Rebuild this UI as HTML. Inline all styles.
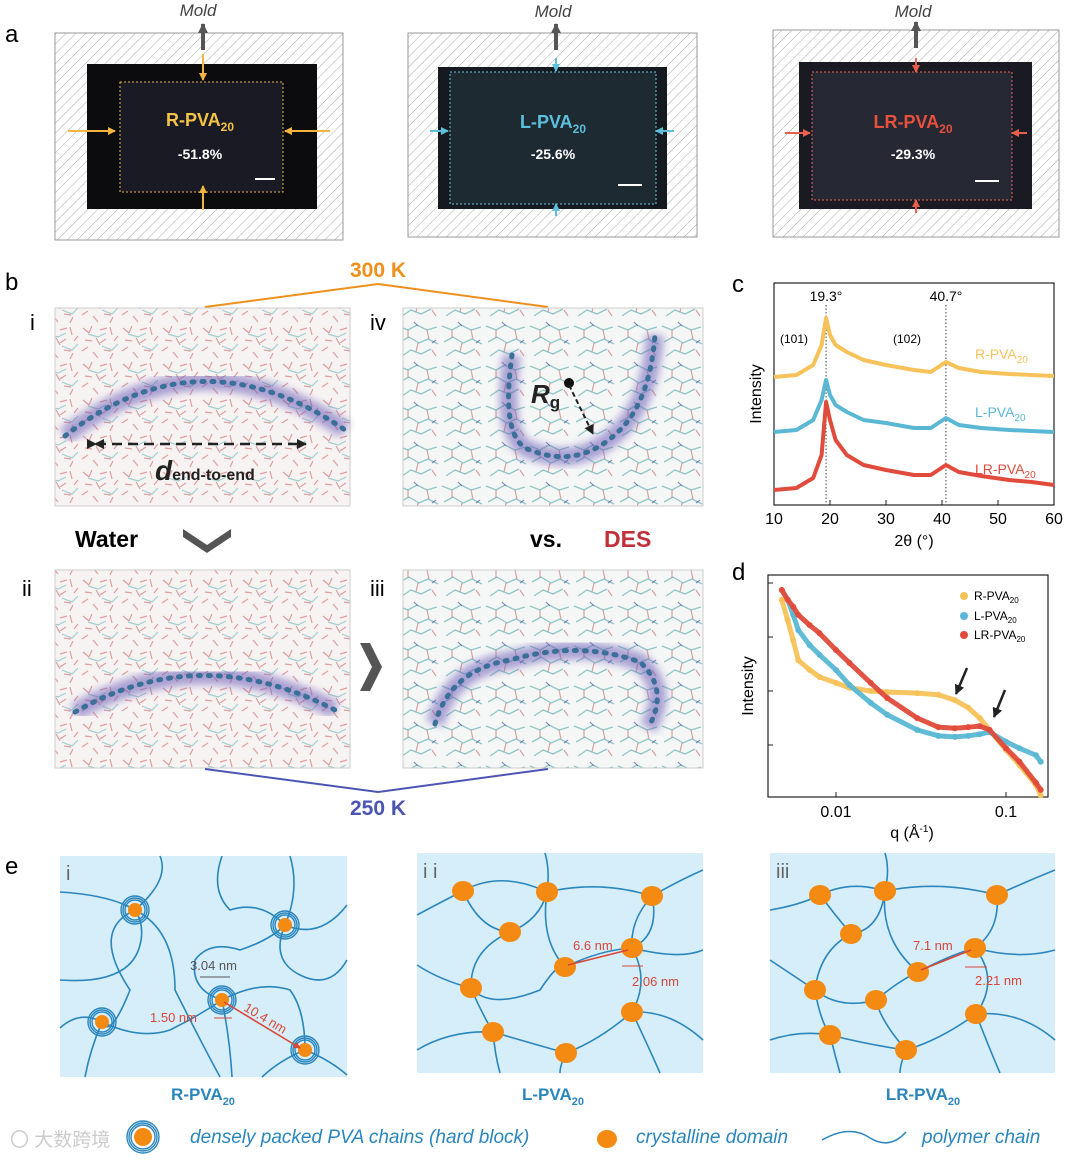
<!DOCTYPE html>
<html><head><meta charset="utf-8">
<style>
html,body{margin:0;padding:0;background:#fff;}
svg{display:block;font-family:"Liberation Sans",Arial,sans-serif;}
</style></head>
<body>
<svg id="fig" width="1080" height="1160" viewBox="0 0 1080 1160" xmlns="http://www.w3.org/2000/svg">
<defs>
<pattern id="hatch" width="7" height="7" patternUnits="userSpaceOnUse" patternTransform="rotate(45)">
<rect width="7" height="7" fill="#fff"/><line x1="0" y1="0" x2="0" y2="7" stroke="#a8a8a8" stroke-width="1"/>
</pattern>
<pattern id="water" width="40" height="36" patternUnits="userSpaceOnUse">
<rect width="40" height="36" fill="#f7f3f3"/>
<path d="M3 4l6 5M12 2l-3 7M20 6l7-2M30 3l2 8M5 16l7 1M16 14l4 7M26 15l-6 4M34 17l4-5M2 27l6-4M13 28l5 6M24 26l7 1M33 29l-3 6" stroke="#d98a8a" stroke-width="1.2" opacity="0.8" fill="none"/>
<path d="M8 10l10 3 8-4M22 22l10 4 6-6" stroke="#8cc4c4" stroke-width="1.2" opacity="0.8" fill="none"/>
</pattern>
<pattern id="des" width="44" height="40" patternUnits="userSpaceOnUse">
<rect width="44" height="40" fill="#f5f6f6"/>
<path d="M2 6l10 4 9-5 10 5 10-3M4 22l9-5 10 6 9-4 10 5M6 36l9-6 10 4 10-5" stroke="#7fbfbf" stroke-width="1.3" opacity="0.85" fill="none"/>
<path d="M12 10l0 8M31 10l2 9M22 23l-2 9M36 30l4 6" stroke="#d58c8c" stroke-width="1.2" opacity="0.8" fill="none"/>
<path d="M18 2l4 4M40 20l-4 3" stroke="#5b5bb0" stroke-width="1.2" opacity="0.7" fill="none"/>
</pattern>
<filter id="blur"><feGaussianBlur stdDeviation="4"/></filter>
<marker id="ah" markerUnits="userSpaceOnUse" markerWidth="10" markerHeight="10" refX="9" refY="5" orient="auto"><path d="M0 0L10 5L0 10z" fill="#222"/></marker>
<marker id="ahg" markerUnits="userSpaceOnUse" markerWidth="10" markerHeight="10" refX="9" refY="5" orient="auto"><path d="M0 0L10 5L0 10z" fill="#555"/></marker>
<marker id="ahy" markerUnits="userSpaceOnUse" markerWidth="8" markerHeight="8" refX="7" refY="4" orient="auto"><path d="M0 0L8 4L0 8z" fill="#f2b640"/></marker>
<marker id="ahb" markerUnits="userSpaceOnUse" markerWidth="8" markerHeight="8" refX="7" refY="4" orient="auto"><path d="M0 0L8 4L0 8z" fill="#5cc0dc"/></marker>
<marker id="ahl" markerUnits="userSpaceOnUse" markerWidth="8" markerHeight="8" refX="7" refY="4" orient="auto"><path d="M0 0L8 4L0 8z" fill="#e8604c"/></marker>
<marker id="ahr" markerUnits="userSpaceOnUse" markerWidth="7" markerHeight="7" refX="6" refY="3.5" orient="auto"><path d="M0 0L7 3.5L0 7z" fill="#d9463a"/></marker>
</defs>

<!-- Panel a -->
<text x="5" y="42" font-size="24">a</text>
<g>
<text x="198" y="16" font-size="17" font-style="italic" fill="#444" text-anchor="middle">Mold</text>
<rect x="55" y="33" width="288" height="207" fill="url(#hatch)" stroke="#999"/>
<line x1="203" y1="50" x2="203" y2="24" stroke="#555" stroke-width="4" marker-end="url(#ahg)"/>
<rect x="87" y="64" width="230" height="145" fill="#0c0c0e"/>
<rect x="120" y="82" width="163" height="110" fill="#1a1a24" stroke="#e8b84a" stroke-dasharray="2 2"/>
<text x="200" y="126" font-size="18" font-weight="bold" fill="#f6c445" text-anchor="middle">R-PVA<tspan font-size="12" dy="5">20</tspan></text>
<text x="200" y="159" font-size="14" font-weight="bold" fill="#fff" text-anchor="middle">-51.8%</text>
<rect x="255" y="178" width="20" height="2" fill="#fff"/>
<g stroke="#f2b640" stroke-width="2">
<line x1="203" y1="54" x2="203" y2="80" marker-end="url(#ahy)"/>
<line x1="203" y1="210" x2="203" y2="186" marker-end="url(#ahy)"/>
<line x1="68" y1="131" x2="115" y2="131" marker-end="url(#ahy)"/>
<line x1="330" y1="131" x2="285" y2="131" marker-end="url(#ahy)"/>
</g>
</g>
<g>
<text x="553" y="17" font-size="17" font-style="italic" fill="#444" text-anchor="middle">Mold</text>
<rect x="408" y="33" width="289" height="204" fill="url(#hatch)" stroke="#999"/>
<line x1="556" y1="50" x2="556" y2="24" stroke="#555" stroke-width="4" marker-end="url(#ahg)"/>
<rect x="438" y="67" width="229" height="142" fill="#141a20"/>
<rect x="450" y="72" width="206" height="132" fill="#1e2a32" stroke="#6cc4dd" stroke-dasharray="2 2"/>
<text x="553" y="128" font-size="18" font-weight="bold" fill="#5cc0dc" text-anchor="middle">L-PVA<tspan font-size="12" dy="5">20</tspan></text>
<text x="553" y="159" font-size="14" font-weight="bold" fill="#fff" text-anchor="middle">-25.6%</text>
<rect x="618" y="184" width="24" height="2" fill="#fff"/>
<g stroke="#5cc0dc" stroke-width="2">
<line x1="556" y1="58" x2="556" y2="71" marker-end="url(#ahb)"/>
<line x1="556" y1="216" x2="556" y2="204" marker-end="url(#ahb)"/>
<line x1="430" y1="131" x2="448" y2="131" marker-end="url(#ahb)"/>
<line x1="674" y1="131" x2="656" y2="131" marker-end="url(#ahb)"/>
</g>
</g>
<g>
<text x="913" y="17" font-size="17" font-style="italic" fill="#444" text-anchor="middle">Mold</text>
<rect x="773" y="30" width="286" height="207" fill="url(#hatch)" stroke="#999"/>
<line x1="916" y1="48" x2="916" y2="22" stroke="#555" stroke-width="4" marker-end="url(#ahg)"/>
<rect x="799" y="62" width="233" height="147" fill="#1a1a22"/>
<rect x="812" y="72" width="200" height="128" fill="#262833" stroke="#e8604c" stroke-dasharray="2 2"/>
<text x="913" y="128" font-size="18" font-weight="bold" fill="#e8503e" text-anchor="middle">LR-PVA<tspan font-size="12" dy="5">20</tspan></text>
<text x="913" y="159" font-size="14" font-weight="bold" fill="#fff" text-anchor="middle">-29.3%</text>
<rect x="975" y="180" width="24" height="2" fill="#fff"/>
<g stroke="#e8604c" stroke-width="2">
<line x1="916" y1="58" x2="916" y2="72" marker-end="url(#ahl)"/>
<line x1="916" y1="213" x2="916" y2="200" marker-end="url(#ahl)"/>
<line x1="785" y1="133" x2="810" y2="133" marker-end="url(#ahl)"/>
<line x1="1027" y1="133" x2="1012" y2="133" marker-end="url(#ahl)"/>
</g>
</g>

<!-- Panel b -->
<text x="5" y="290" font-size="24">b</text>
<text x="378" y="277" font-size="21" font-weight="bold" fill="#f0901c" text-anchor="middle">300 K</text>
<polyline points="205,307 378,284 548,307" fill="none" stroke="#f0901c" stroke-width="2"/>
<g>
<text x="30" y="330" font-size="22">i</text>
<rect x="55" y="308" width="295" height="198" fill="url(#water)" stroke="#ccc"/>
<path d="M65 436 Q200 330 345 430" fill="none" stroke="#6a5bb8" stroke-width="18" opacity="0.55" filter="url(#blur)"/>
<path d="M65 436 Q200 330 345 430" fill="none" stroke="#3a6f98" stroke-width="5" stroke-dasharray="2 8" stroke-linecap="round"/>
<line x1="96" y1="444" x2="306" y2="444" stroke="#222" stroke-width="2.5" stroke-dasharray="10 6" marker-start="url(#ah)" marker-end="url(#ah)"/>
<path d="M94 444 l10 -5 v10z" fill="#222"/>
<text x="155" y="480" font-size="28" font-weight="bold" font-style="italic" fill="#222">d<tspan font-size="16" font-style="normal">end-to-end</tspan></text>
</g>
<g>
<text x="370" y="330" font-size="22">iv</text>
<rect x="403" y="308" width="300" height="198" fill="url(#des)" stroke="#ccc"/>
<path d="M512 355 Q500 440 530 450 Q580 470 620 430 Q650 400 655 335" fill="none" stroke="#6a5bb8" stroke-width="18" opacity="0.55" filter="url(#blur)"/>
<path d="M512 355 Q500 440 530 450 Q580 470 620 430 Q650 400 655 335" fill="none" stroke="#3a6f98" stroke-width="5" stroke-dasharray="2 8" stroke-linecap="round"/>
<circle cx="569" cy="383" r="5" fill="#111"/>
<line x1="569" y1="385" x2="593" y2="434" stroke="#222" stroke-width="2" stroke-dasharray="5 3" marker-end="url(#ah)"/>
<text x="531" y="403" font-size="26" font-weight="bold" font-style="italic" fill="#222">R<tspan font-size="17" font-style="normal" dy="5">g</tspan></text>
</g>
<text x="75" y="547" font-size="23" font-weight="bold">Water</text>
<path d="M183 529 l24 16 l24 -16 v8 l-24 16 l-24 -16z" fill="#555"/>
<text x="530" y="547" font-size="23" font-weight="bold">vs.</text>
<text x="604" y="547" font-size="23" font-weight="bold" fill="#c0313c">DES</text>
<g>
<text x="22" y="596" font-size="22">ii</text>
<rect x="55" y="570" width="295" height="198" fill="url(#water)" stroke="#ccc"/>
<path d="M75 712 Q200 640 335 710" fill="none" stroke="#6a5bb8" stroke-width="18" opacity="0.55" filter="url(#blur)"/>
<path d="M75 712 Q200 640 335 710" fill="none" stroke="#3a6f98" stroke-width="5" stroke-dasharray="2 8" stroke-linecap="round"/>
</g>
<path d="M360 643 l12 24 l-12 24 h10 l12 -24 l-12 -24z" fill="#555"/>
<g>
<text x="370" y="596" font-size="22">iii</text>
<rect x="403" y="570" width="300" height="198" fill="url(#des)" stroke="#ccc"/>
<path d="M435 724 Q450 670 510 660 Q580 640 640 662 Q670 690 648 728" fill="none" stroke="#6a5bb8" stroke-width="18" opacity="0.55" filter="url(#blur)"/>
<path d="M435 724 Q450 670 510 660 Q580 640 640 662 Q670 690 648 728" fill="none" stroke="#3a6f98" stroke-width="5" stroke-dasharray="2 8" stroke-linecap="round"/>
</g>
<polyline points="205,769 378,792 548,769" fill="none" stroke="#4c55b4" stroke-width="2"/>
<text x="378" y="815" font-size="21" font-weight="bold" fill="#4c55b4" text-anchor="middle">250 K</text>

<!-- Panel c -->
<text x="732" y="292" font-size="24">c</text>
<g id="chartC"></g>
<!-- Panel d -->
<text x="732" y="580" font-size="24">d</text>
<g id="chartD"></g>

<!-- Panel e -->
<text x="5" y="874" font-size="24">e</text>
<g>
<rect x="60" y="856" width="287" height="221" fill="#d6eef9"/>
<text x="66" y="880" font-size="20" fill="#666">i</text>
<g fill="none" stroke="#2a86bd" stroke-width="1.6">
<path d="M60 892 Q110 895 135 910 Q170 880 160 856"/>
<path d="M135 910 Q90 930 130 990 Q110 1040 102 1022"/>
<path d="M60 1028 Q80 1010 102 1022 Q140 1040 170 1030 Q200 1015 222 1000"/>
<path d="M60 980 Q130 985 140 945 Q145 925 135 910"/>
<path d="M135 910 Q175 930 175 990 Q200 1040 220 1077"/>
<path d="M222 1000 Q230 1040 232 1077"/>
<path d="M222 1000 Q190 990 195 960 Q210 940 240 950 Q270 940 285 925"/>
<path d="M285 925 Q260 900 230 910 Q210 890 222 856"/>
<path d="M285 925 Q300 890 290 856"/>
<path d="M285 925 Q320 940 347 905"/>
<path d="M285 925 Q270 960 300 975 Q330 990 347 960"/>
<path d="M222 1000 Q260 980 290 990 Q305 1010 305 1050"/>
<path d="M305 1050 Q330 1060 347 1075"/>
<path d="M305 1050 Q280 1060 262 1077"/>
<path d="M102 1022 Q90 1050 85 1077"/>
</g>
<g fill="#f58a12">
<ellipse cx="135" cy="910" rx="7" ry="7"/><ellipse cx="285" cy="925" rx="7" ry="7"/>
<ellipse cx="102" cy="1022" rx="7" ry="7"/><ellipse cx="222" cy="1000" rx="7" ry="7"/><ellipse cx="305" cy="1050" rx="7" ry="7"/>
</g>
<g fill="none" stroke="#2a86bd" stroke-width="1.4">
<circle cx="135" cy="910" r="10"/><circle cx="135" cy="910" r="12"/><circle cx="135" cy="910" r="14"/>
<circle cx="285" cy="925" r="10"/><circle cx="285" cy="925" r="12"/><circle cx="285" cy="925" r="14"/>
<circle cx="102" cy="1022" r="10"/><circle cx="102" cy="1022" r="12"/><circle cx="102" cy="1022" r="14"/>
<circle cx="222" cy="1000" r="10"/><circle cx="222" cy="1000" r="12"/><circle cx="222" cy="1000" r="14"/>
<circle cx="305" cy="1050" r="10"/><circle cx="305" cy="1050" r="12"/><circle cx="305" cy="1050" r="14"/>
</g>
<text x="190" y="970" font-size="13" fill="#555">3.04 nm</text>
<line x1="200" y1="977" x2="230" y2="977" stroke="#555"/>
<text x="150" y="1022" font-size="13" fill="#d9463a">1.50 nm</text>
<line x1="214" y1="1018" x2="232" y2="1018" stroke="#d9463a"/>
<line x1="224" y1="1002" x2="300" y2="1048" stroke="#d9463a" stroke-width="1.6" marker-end="url(#ahr)"/>
<text x="243" y="1010" font-size="13" fill="#d9463a" transform="rotate(31 243 1010)">10.4 nm</text>
</g>
<text x="203" y="1100" font-size="17" font-weight="bold" fill="#2a86bd" text-anchor="middle">R-PVA<tspan font-size="11" dy="5">20</tspan></text>

<g>
<rect x="417" y="853" width="286" height="220" fill="#d6eef9"/>
<text x="423" y="878" font-size="20" fill="#666">i i</text>
<g fill="none" stroke="#2a86bd" stroke-width="1.6">
<path d="M417 915 Q445 900 463 891 Q500 870 547 892 Q600 880 652 896 Q680 880 703 870"/>
<path d="M463 891 Q480 930 510 932 Q540 920 547 892"/>
<path d="M510 932 Q470 950 471 988 Q490 1010 540 990 Q560 960 565 967"/>
<path d="M417 965 Q440 980 471 988 Q480 1010 493 1032 Q520 1040 566 1053"/>
<path d="M417 1050 Q450 1030 493 1032"/>
<path d="M565 967 Q600 950 632 948 Q660 935 652 896"/>
<path d="M652 896 Q630 920 632 948"/>
<path d="M632 948 Q650 980 632 1012 Q600 1040 566 1053"/>
<path d="M632 1012 Q670 1010 703 1040"/>
<path d="M566 1053 Q560 1065 560 1073"/>
<path d="M493 1032 Q495 1055 500 1073"/>
<path d="M632 948 Q680 960 703 950"/>
<path d="M547 892 Q550 870 545 853"/>
<path d="M565 967 Q540 940 547 892"/>
<path d="M632 1012 Q650 1050 660 1073"/>
</g>
<g fill="#f58a12">
<ellipse cx="463" cy="891" rx="11" ry="10"/><ellipse cx="547" cy="892" rx="11" ry="10"/><ellipse cx="652" cy="896" rx="11" ry="10"/>
<ellipse cx="510" cy="932" rx="11" ry="10"/><ellipse cx="565" cy="967" rx="11" ry="10"/><ellipse cx="632" cy="948" rx="11" ry="10"/>
<ellipse cx="471" cy="988" rx="11" ry="10"/><ellipse cx="632" cy="1012" rx="11" ry="10"/>
<ellipse cx="493" cy="1032" rx="11" ry="10"/><ellipse cx="566" cy="1053" rx="11" ry="10"/>
</g>
<line x1="568" y1="965" x2="628" y2="950" stroke="#d9463a" stroke-width="1.6"/>
<text x="573" y="950" font-size="13" fill="#d9463a">6.6 nm</text>
<line x1="622" y1="966" x2="643" y2="966" stroke="#d9463a"/>
<text x="632" y="986" font-size="13" fill="#d9463a">2.06 nm</text>
</g>
<text x="553" y="1100" font-size="17" font-weight="bold" fill="#2a86bd" text-anchor="middle">L-PVA<tspan font-size="11" dy="5">20</tspan></text>

<g>
<rect x="770" y="853" width="285" height="220" fill="#d6eef9"/>
<text x="776" y="878" font-size="20" fill="#666">iii</text>
<g fill="none" stroke="#2a86bd" stroke-width="1.6">
<path d="M770 910 Q800 905 820 895 Q850 880 885 891 Q940 880 997 895 Q1030 880 1055 870"/>
<path d="M820 895 Q835 915 851 934 Q880 930 885 891"/>
<path d="M851 934 Q820 950 815 990 Q840 1010 876 1000 Q900 980 918 972"/>
<path d="M770 960 Q800 980 815 990 Q820 1020 830 1035 Q870 1045 906 1050"/>
<path d="M770 1040 Q800 1030 830 1035"/>
<path d="M918 972 Q950 955 975 948 Q1000 930 997 895"/>
<path d="M975 948 Q1000 980 976 1014 Q940 1040 906 1050"/>
<path d="M976 1014 Q1020 1010 1055 1040"/>
<path d="M906 1050 Q900 1065 900 1073"/>
<path d="M830 1035 Q835 1055 840 1073"/>
<path d="M975 948 Q1020 960 1055 950"/>
<path d="M885 891 Q890 870 885 853"/>
<path d="M918 972 Q880 940 885 891"/>
<path d="M976 1014 Q990 1050 1000 1073"/>
<path d="M876 1000 Q880 1020 906 1050"/>
</g>
<g fill="#f58a12">
<ellipse cx="820" cy="895" rx="11" ry="10"/><ellipse cx="885" cy="891" rx="11" ry="10"/><ellipse cx="997" cy="895" rx="11" ry="10"/>
<ellipse cx="851" cy="934" rx="11" ry="10"/><ellipse cx="918" cy="972" rx="11" ry="10"/><ellipse cx="975" cy="948" rx="11" ry="10"/>
<ellipse cx="815" cy="990" rx="11" ry="10"/><ellipse cx="976" cy="1014" rx="11" ry="10"/><ellipse cx="876" cy="1000" rx="11" ry="10"/>
<ellipse cx="830" cy="1035" rx="11" ry="10"/><ellipse cx="906" cy="1050" rx="11" ry="10"/>
</g>
<line x1="921" y1="970" x2="971" y2="950" stroke="#d9463a" stroke-width="1.6"/>
<text x="913" y="950" font-size="13" fill="#d9463a">7.1 nm</text>
<line x1="965" y1="967" x2="987" y2="967" stroke="#d9463a"/>
<text x="975" y="985" font-size="13" fill="#d9463a">2.21 nm</text>
</g>
<text x="923" y="1100" font-size="17" font-weight="bold" fill="#2a86bd" text-anchor="middle">LR-PVA<tspan font-size="11" dy="5">20</tspan></text>

<!-- legend -->
<g>
<text x="10" y="1146" font-size="19" fill="#ccc" font-family="'Liberation Sans','Noto Sans CJK SC',sans-serif">〇 大数跨境</text>
<circle cx="143" cy="1137" r="9" fill="#f58a12"/>
<circle cx="143" cy="1137" r="12" fill="none" stroke="#2a86bd" stroke-width="1.4"/>
<circle cx="143" cy="1137" r="14" fill="none" stroke="#2a86bd" stroke-width="1.4"/>
<circle cx="143" cy="1137" r="16" fill="none" stroke="#2a86bd" stroke-width="1.4"/>
<text x="190" y="1143" font-size="19" font-style="italic" fill="#2a86bd">densely packed PVA chains (hard block)</text>
<ellipse cx="607" cy="1139" rx="10" ry="9" fill="#f58a12"/>
<text x="636" y="1143" font-size="19" font-style="italic" fill="#2a86bd">crystalline domain</text>
<path d="M822 1140 Q850 1124 870 1138 Q890 1150 906 1132" fill="none" stroke="#2a86bd" stroke-width="1.5"/>
<text x="922" y="1143" font-size="19" font-style="italic" fill="#2a86bd">polymer chain</text>
</g>
</svg>

<script>
// ---- Panel c data (XRD) ----
const xrdTheta = [10,14,17,18.5,19.3,20,21,23,26,30,35,38,40.7,43,47,52,56,60];
const xrdR  = [128,130,140,160,187,170,160,153,145,140,135,133,143,137,133,131,130,129];
const xrdL  = [73,75,85,105,125,110,100,93,85,82,77,77,87,80,77,75,74,73];
const xrdLR = [15,17,27,50,103,85,65,50,40,35,30,30,40,33,29,25,23,20];
const xrdTicks = [10,20,30,40,50,60];
const xrdSeriesNames = ["R-PVA","L-PVA","LR-PVA"];

// ---- Panel d data (SAXS, log10 intensity) ----
const saxsQ = [0.0048,0.0052,0.0056,0.006,0.007,0.008,0.01,0.012,0.016,0.02,0.03,0.04,0.05,0.06,0.07,0.08,0.1,0.12,0.15,0.16];
const saxsR  = [3.69,3.31,2.94,2.57,2.39,2.26,2.15,2.06,2.00,1.98,1.96,1.93,1.83,1.69,1.50,1.28,0.91,0.63,0.26,0.07];
const saxsL  = [3.87,3.69,3.41,3.13,2.85,2.67,2.39,2.11,1.78,1.56,1.28,1.17,1.15,1.17,1.20,1.24,1.06,0.94,0.81,0.69];
const saxsLR = [3.87,3.69,3.56,3.41,3.22,3.07,2.76,2.52,2.15,1.87,1.50,1.33,1.31,1.33,1.35,1.28,0.94,0.69,0.30,0.17];
const saxsTicks = [0.01,0.1];
const saxsTickLabels = ["0.01","0.1"];

const NS = "http://www.w3.org/2000/svg";
function mk(tag, attrs, parent){const e=document.createElementNS(NS,tag);for(const k in attrs)e.setAttribute(k,attrs[k]);parent.appendChild(e);return e;}

// Chart C
(function(){
  const g = document.getElementById('chartC');
  const L=774,R=1054,T=283,B=505;
  const xs = v => L + (v-10)/(60-10)*(R-L);
  const ys = v => B - v/222*(B-T);
  const frame = mk('rect',{x:L,y:T,width:R-L,height:B-T,fill:'none',stroke:'#222','stroke-width':1.2},g);
  
  
  xrdTicks.forEach(t=>{
    mk('line',{x1:xs(t),x2:xs(t),y1:B,y2:B-5,stroke:'#222'},g);
    const tx = mk('text',{x:xs(t),y:B+19,'font-size':16,'text-anchor':'middle'},g);
    tx.textContent=t;
    
    
  });
  [19.3,40.7].forEach(p=>{
    mk('line',{x1:xs(p),x2:xs(p),y1:305,y2:B,stroke:'#444','stroke-dasharray':'1.5 2'},g);
  });
  const series=[[xrdR,'#f7c25a'],[xrdL,'#5ab8d4'],[xrdLR,'#e04b3c']];
  series.forEach((s,i)=>{
    const pts = xrdTheta.map((t,j)=>xs(t)+','+ys(s[0][j])).join(' ');
    const pl = mk('polyline',{points:pts,fill:'none',stroke:s[1],'stroke-width':4,'stroke-linejoin':'round'},g);
    
    
  });
  const t1=mk('text',{x:826,y:301,'font-size':14,'text-anchor':'middle'},g); t1.textContent='19.3°';
  const t2=mk('text',{x:946,y:301,'font-size':14,'text-anchor':'middle'},g); t2.textContent='40.7°';
  const t3=mk('text',{x:780,y:343,'font-size':12},g); t3.textContent='(101)';
  const t4=mk('text',{x:893,y:343,'font-size':12},g); t4.textContent='(102)';
  const labs=[['R-PVA','#f7c25a',359,975],['L-PVA','#5ab8d4',417,975],['LR-PVA','#e04b3c',474,975]];
  labs.forEach(l=>{
    const t=mk('text',{x:l[3],y:l[2],'font-size':14,fill:l[1]},g);
    t.innerHTML=l[0]+'<tspan font-size="10" dy="4">20</tspan>';
    
    
  });
  const xl=mk('text',{x:914,y:546,'font-size':16,'text-anchor':'middle'},g); xl.textContent='2θ (°)';
  
  
  const yl=mk('text',{x:761,y:394,'font-size':16,'text-anchor':'middle',transform:'rotate(-90 761 394)'},g); yl.textContent='Intensity';
  
  
})();

// Chart D
(function(){
  const g=document.getElementById('chartD');
  const L=768,R=1048,T=575,B=797;
  const xs = q => 836 + (Math.log10(q)+2)*170;
  const ys = v => 799 - v*54;
  const frame=mk('rect',{x:L,y:T,width:R-L,height:B-T,fill:'none',stroke:'#222','stroke-width':1.2},g);
  
  
  saxsTicks.forEach((t,i)=>{
    mk('line',{x1:xs(t),x2:xs(t),y1:B,y2:B-5,stroke:'#222'},g);
    const tx=mk('text',{x:xs(t),y:B+20,'font-size':16,'text-anchor':'middle'},g);
    tx.textContent=saxsTickLabels[i];
    
    
  });
  [0,1,2,3,4].forEach(d=>{ if(ys(d)>T && ys(d)<B) mk('line',{x1:L,x2:L+5,y1:ys(d),y2:ys(d),stroke:'#222'},g); });
  const series=[[saxsR,'#f7c25a','r'],[saxsL,'#5ab8d4','l'],[saxsLR,'#e04b3c','lr']];
  series.forEach(s=>{
    const pts=saxsQ.map((q,j)=>xs(q)+','+ys(s[0][j])).join(' ');
    const pl=mk('polyline',{points:pts,fill:'none',stroke:s[1],'stroke-width':5,'stroke-linejoin':'round',opacity:0.95},g);
    
    
    saxsQ.forEach((q,j)=>{
      const c=mk('circle',{cx:xs(q),cy:ys(s[0][j]),r:3,fill:s[1]},g);
      
      
    });
  });
  mk('line',{x1:967,y1:668,x2:956,y2:694,stroke:'#222','stroke-width':2.5,'marker-end':'url(#ah)'},g);
  mk('line',{x1:1005,y1:690,x2:994,y2:717,stroke:'#222','stroke-width':2.5,'marker-end':'url(#ah)'},g);
  const leg=[['R-PVA','#f7c25a',600],['L-PVA','#5ab8d4',620],['LR-PVA','#e04b3c',639]];
  leg.forEach(l=>{
    mk('circle',{cx:964,cy:l[2]-4,r:4,fill:l[1]},g);
    const t=mk('text',{x:974,y:l[2],'font-size':12},g);
    t.innerHTML=l[0]+'<tspan font-size="8" dy="3">20</tspan>';
    
    
  });
  const xl=mk('text',{x:912,y:838,'font-size':16,'text-anchor':'middle'},g);
  xl.innerHTML='q (Å<tspan font-size="10" dy="-6">-1</tspan><tspan dy="6">)</tspan>';
  
  
  const yl=mk('text',{x:753,y:686,'font-size':16,'text-anchor':'middle',transform:'rotate(-90 753 686)'},g); yl.textContent='Intensity';
  
  
})();
</script>
</body></html>
